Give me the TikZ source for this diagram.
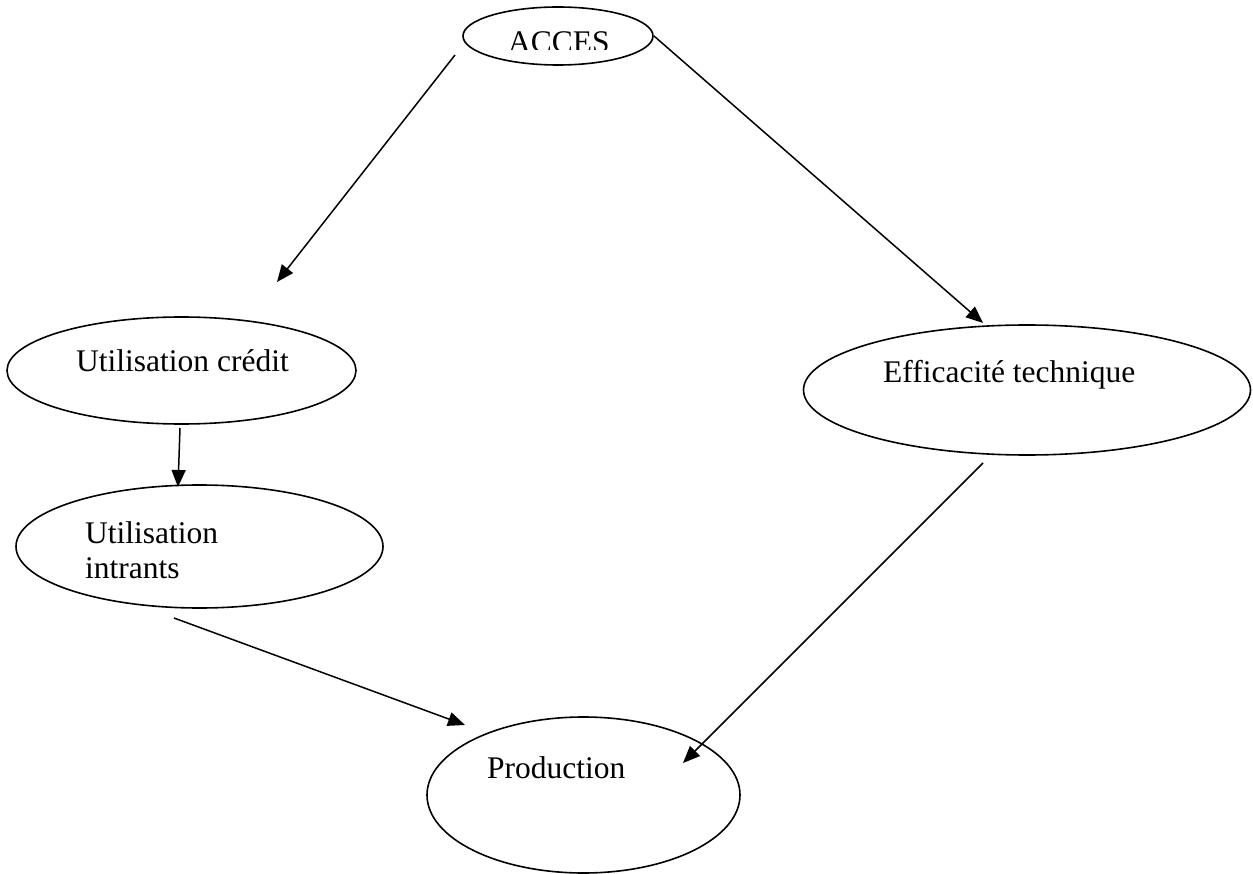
\documentclass[tikz,border=0pt]{standalone}
\usepackage{fontspec}
\setmainfont{Liberation Serif}
\usetikzlibrary{shapes.geometric,arrows.meta}
\begin{document}
\begin{tikzpicture}[x=1pt,y=-1pt,
  oval/.style={ellipse,draw,line width=1.6pt,inner sep=0pt},
  lbl/.style={anchor=base west,inner sep=0pt,font=\fontsize{31.5}{35}\selectfont},
  conn/.style={line width=1.5pt,-{Triangle[length=17pt,width=14pt]}}]
\useasboundingbox (0,0) rectangle (1253,874);
% ellipses
\node[oval,minimum width=190pt,minimum height=58pt] (acces) at (558,36) {};
\node[oval,minimum width=349pt,minimum height=107pt] (credit) at (181.5,370.5) {};
\node[oval,minimum width=367pt,minimum height=123pt] (intrants) at (199.5,546.5) {};
\node[oval,minimum width=447pt,minimum height=130pt] (effic) at (1027,390) {};
\node[oval,minimum width=313pt,minimum height=156pt] (prod) at (583.5,795) {};
% labels
\begin{scope}
\clip (400,0) rectangle (700,50);
\node[lbl] (accesT) at (508,53) {ACCES};
\end{scope}
\node[lbl] (creditT) at (76,372) {Utilisation crédit};
\node[lbl] (intrT1) at (85,543) {Utilisation};
\node[lbl] (intrT2) at (85,578) {intrants};
\node[lbl] (efficT) at (883,383) {Efficacité technique};
\node[lbl] (prodT) at (487,778) {Production};
% connector ends
\coordinate (a1s) at (455,55);  \coordinate (a1e) at (277,282);
\coordinate (a2s) at (654,36);  \coordinate (a2e) at (983,323);
\coordinate (a3s) at (180,428); \coordinate (a3e) at (178,487);
\coordinate (a4s) at (174,618); \coordinate (a4e) at (465,725);
\coordinate (a5s) at (983,463); \coordinate (a5e) at (683,763);
\draw[conn] (a1s) -- (a1e);
\draw[conn] (a2s) -- (a2e);
\draw[conn] (a3s) -- (a3e);
\draw[conn] (a4s) -- (a4e);
\draw[conn] (a5s) -- (a5e);
\end{tikzpicture}
\end{document}
